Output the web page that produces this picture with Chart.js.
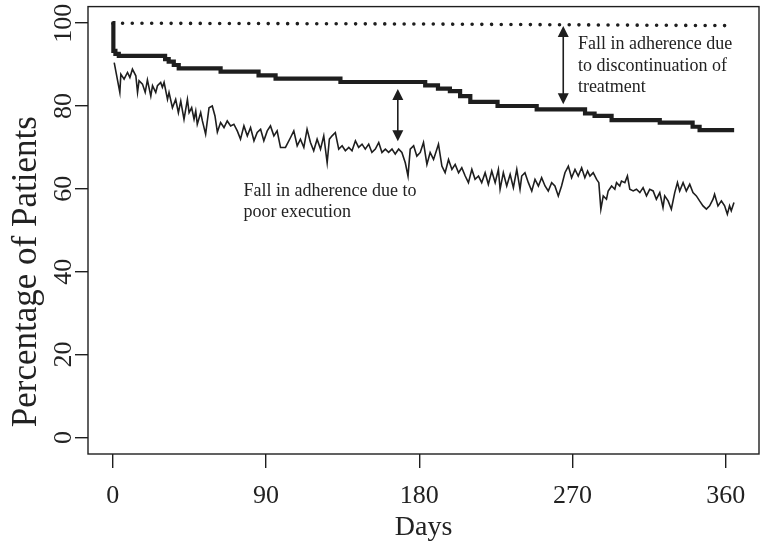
<!DOCTYPE html>
<html lang="en">
<head>
  <meta charset="UTF-8" />
  <title>Adherence over time</title>
  <script src="https://cdn.jsdelivr.net/npm/chart.js@4.4.1/dist/chart.umd.min.js"></script>
  <style>
    html, body {margin: 0; padding: 0; background: #fff;}
    #wrap {width: 763px; height: 547px;}
  </style>
</head>
<body>
  <div id="wrap"><canvas id="myChart" width="763" height="547"></canvas></div>

  <script>
    // tick values
    const xTicks = [0, 90, 180, 270, 360];
    const yTicks = [0, 20, 40, 60, 80, 100];

    // initiation (dotted, top)
    const initDays = [0, 180, 365];
    const initPct  = [100, 99.8, 99.4];

    // persistence (thick step line) - day where the new level starts
    const persistDays = [0, 0.3, 1.5, 3.5, 30.7, 32.8, 35.8, 38.7, 63.3, 85.6, 95.6, 133.7, 183.5, 191, 198, 204, 210, 226, 249, 277.4, 283, 293, 321.3, 340.6, 344.7, 365];
    const persistPct  = [100, 93.3, 92.6, 92.1, 91.3, 90.7, 89.9, 89.1, 88.3, 87.4, 86.6, 85.8, 85.0, 84.2, 83.6, 82.4, 81.0, 80.0, 79.2, 78.2, 77.6, 76.6, 76.0, 75.0, 74.2, 74.2];

    // implementation / execution (thin noisy line)
    const execDays = [0.8, 4.1, 4.7, 6.6, 8.6, 10.0, 11.5, 13.5, 14.5, 15.4, 17.4, 19.0, 20.3, 22.3, 23.3, 25.2, 26.2, 28.1, 29.1, 30.1,
      32.1, 33.0, 35.0, 36.9, 38.5, 39.9, 41.8, 43.8, 44.8, 46.3, 47.7, 48.7, 49.6, 51.6, 52.6, 54.5, 56.5, 58.4, 60.0, 61.4,
      63.3, 65.3, 67.2, 69.2, 71.1, 73.1, 75.0, 77.0, 79.0, 80.9, 82.9, 84.8, 86.8, 88.7, 90.7, 92.6, 94.6, 96.5, 98.5, 101.4,
      104.4, 106.3, 108.3, 110.2, 112.2, 114.1, 116.1, 118.0, 120.0, 122.0, 123.9, 125.9, 127.2, 128.8, 130.7, 132.7, 134.7, 136.6, 138.6, 140.5,
      142.5, 144.4, 146.4, 148.3, 150.3, 152.2, 154.2, 156.2, 158.1, 160.1, 162.0, 164.0, 165.9, 167.9, 169.8, 171.8, 173.4, 174.7, 176.7, 178.6,
      180.6, 182.5, 184.5, 186.4, 188.4, 191.3, 193.3, 195.2, 197.2, 199.2, 201.1, 203.1, 205.0, 207.0, 208.9, 210.9, 212.8, 214.8, 216.7, 218.7,
      220.6, 222.6, 224.6, 226.5, 227.5, 229.4, 231.4, 233.4, 235.3, 237.3, 239.2, 240.2, 242.1, 244.1, 246.1, 248.0, 250.0, 251.9, 253.9, 255.8,
      257.8, 259.7, 261.7, 263.6, 265.6, 267.6, 269.5, 271.5, 273.4, 275.4, 277.3, 278.9, 280.3, 282.2, 284.2, 285.5, 286.7, 288.1, 290.0, 291.0,
      293.0, 294.9, 295.9, 297.8, 298.8, 300.8, 302.3, 303.7, 305.7, 307.6, 309.6, 311.5, 313.5, 315.4, 317.4, 319.3, 321.3, 323.2, 324.2, 326.2,
      328.1, 330.1, 331.7, 333.0, 335.0, 336.9, 338.9, 340.8, 342.8, 344.7, 346.7, 348.7, 350.6, 352.6, 353.5, 355.5, 357.5, 359.4, 361.0, 362.3,
      363.3, 364.9];
    const execPct = [90.5, 83.3, 87.7, 86.5, 88.1, 86.9, 88.9, 87.3, 83.3, 86.1, 85.3, 83.3, 86.3, 82.4, 84.9, 83.3, 84.9, 85.7, 84.5, 85.7,
      81.6, 83.3, 79.6, 81.6, 78.4, 81.2, 76.8, 81.6, 78.4, 79.6, 76.8, 78.8, 75.6, 78.4, 76.4, 73.2, 79.6, 80.0, 77.6, 73.7,
      76.0, 74.8, 76.4, 75.2, 75.6, 74.0, 72.0, 75.2, 72.8, 74.8, 71.6, 73.6, 74.4, 71.6, 74.0, 75.2, 72.8, 74.0, 70.0, 70.0,
      72.4, 74.0, 70.4, 72.0, 70.0, 74.4, 71.2, 69.2, 72.0, 69.6, 72.8, 66.3, 72.0, 72.8, 73.6, 69.6, 70.4, 69.2, 70.0, 69.2,
      71.6, 70.0, 70.8, 69.6, 70.8, 68.8, 69.6, 71.2, 68.8, 69.6, 68.8, 69.6, 68.4, 69.6, 68.8, 66.3, 63.1, 69.6, 70.4, 67.9,
      68.8, 71.2, 65.9, 68.8, 67.1, 70.8, 65.5, 63.9, 67.1, 64.7, 65.9, 63.9, 65.1, 63.1, 61.5, 64.7, 62.3, 63.1, 61.5, 63.9,
      61.1, 64.3, 61.5, 64.7, 59.9, 63.9, 60.7, 63.5, 60.3, 64.7, 59.9, 63.1, 63.9, 61.5, 59.5, 62.3, 60.7, 62.7, 60.7, 59.5,
      61.5, 60.7, 58.3, 60.7, 63.9, 65.5, 62.7, 64.7, 63.1, 65.1, 62.7, 64.3, 63.1, 63.9, 62.3, 61.5, 55.1, 58.3, 57.5, 59.5,
      60.7, 59.9, 61.5, 60.7, 61.9, 61.5, 63.1, 59.9, 59.5, 59.9, 59.1, 60.3, 58.3, 59.9, 59.5, 57.5, 59.1, 55.5, 58.3, 57.1,
      55.1, 59.1, 61.5, 59.5, 61.5, 59.5, 61.1, 59.1, 58.3, 57.1, 55.9, 55.1, 55.9, 57.5, 58.7, 55.9, 57.1, 55.9, 53.9, 55.9,
      54.7, 56.7];

    // annotations (data units)
    const arrows = [
      {day: 167.4, from: 84.1, to: 71.5},
      {day: 264.6, from: 99.3, to: 80.4}
    ];
    const notes = [
      {day: 76.8, pct: 58.3, lines: ["Fall in adherence due to", "poor execution"]},
      {day: 273.2, pct: 93.7, lines: ["Fall in adherence due", "to discontinuation of", "treatment"]}
    ];
    const yTitle = "Percentage of Patients";

    const SERIF = "'Liberation Serif', 'DejaVu Serif', serif";
    const INK = "#1e1e1e";

    const toPts = (xs, ys) => xs.map((d, i) => ({x: d, y: ys[i]}));

    // frame around the plot region
    const boxPlugin = {
      id: "box",
      afterDatasetsDraw(chart) {
        const {ctx, chartArea: a} = chart;
        ctx.save();
        ctx.strokeStyle = INK;
        ctx.lineWidth = 1.4;
        ctx.strokeRect(a.left, a.top, a.right - a.left, a.bottom - a.top);
        ctx.restore();
      }
    };

    // double arrows + notes + y title (sits a bit below the plot centre in the original)
    const notesPlugin = {
      id: "notes",
      afterDatasetsDraw(chart) {
        const {ctx, scales: {x, y}} = chart;
        ctx.save();
        ctx.strokeStyle = INK;
        ctx.fillStyle = INK;
        ctx.lineWidth = 1.6;
        const head = (px, py, dir) => {
          ctx.beginPath();
          ctx.moveTo(px, py);
          ctx.lineTo(px - 5.5, py + dir * 11);
          ctx.lineTo(px + 5.5, py + dir * 11);
          ctx.closePath();
          ctx.fill();
        };
        arrows.forEach(a => {
          const px = x.getPixelForValue(a.day);
          const y1 = y.getPixelForValue(a.from);
          const y2 = y.getPixelForValue(a.to);
          ctx.beginPath();
          ctx.moveTo(px, y1 + 6);
          ctx.lineTo(px, y2 - 6);
          ctx.stroke();
          head(px, y1, 1);
          head(px, y2, -1);
        });
        ctx.font = "18px " + SERIF;
        ctx.textAlign = "left";
        ctx.textBaseline = "alphabetic";
        ctx.fillStyle = "#222";
        notes.forEach(n => {
          const px = x.getPixelForValue(n.day);
          const py = y.getPixelForValue(n.pct);
          n.lines.forEach((t, i) => ctx.fillText(t, px, py + i * 21.5));
        });

        ctx.translate(27, y.getPixelForValue(40));
        ctx.rotate(-Math.PI / 2);
        ctx.font = "35px " + SERIF;
        ctx.textAlign = "center";
        ctx.textBaseline = "middle";
        ctx.fillText(yTitle, 0, 0);
        ctx.restore();
      }
    };

    new Chart(document.getElementById("myChart"), {
      type: "line",
      data: {
        datasets: [
          {
            data: toPts(initDays, initPct),
            borderColor: INK,
            borderWidth: 3.6,
            borderDash: [0.01, 9.7],
            borderCapStyle: "round",
            pointRadius: 0,
            tension: 0
          },
          {
            data: toPts(persistDays, persistPct),
            borderColor: INK,
            borderWidth: 4.2,
            stepped: true,
            pointRadius: 0
          },
          {
            data: toPts(execDays, execPct),
            borderColor: INK,
            borderWidth: 1.6,
            pointRadius: 0,
            tension: 0
          }
        ]
      },
      options: {
        responsive: false,
        animation: false,
        events: [],
        layout: {padding: {top: 6, right: 4, left: 0, bottom: 0}},
        plugins: {legend: {display: false}, tooltip: {enabled: false}},
        scales: {
          x: {
            type: "linear",
            min: -14.6,
            max: 379.6,
            afterBuildTicks: s => { s.ticks = xTicks.map(v => ({value: v})); },
            afterFit: s => { s.height = 93; },
            grid: {drawOnChartArea: false, drawTicks: true, tickLength: 14, color: INK, lineWidth: 1.4},
            border: {display: false},
            ticks: {font: {family: SERIF, size: 26}, color: "#222", padding: 13, autoSkip: false, maxRotation: 0},
            title: {display: true, text: "Days", font: {family: SERIF, size: 28}, color: "#222", padding: {top: 0, bottom: 3}}
          },
          y: {
            type: "linear",
            min: -4,
            max: 104,
            afterBuildTicks: s => { s.ticks = yTicks.map(v => ({value: v})); },
            afterFit: s => { s.width = 88; },
            grid: {drawOnChartArea: false, drawTicks: true, tickLength: 13, color: INK, lineWidth: 1.4},
            border: {display: false},
            ticks: {font: {family: SERIF, size: 26}, color: "#222", padding: -9, minRotation: 90, maxRotation: 90, crossAlign: "center"},
            title: {display: false}
          }
        }
      },
      plugins: [boxPlugin, notesPlugin]
    });
  </script>
</body>
</html>
